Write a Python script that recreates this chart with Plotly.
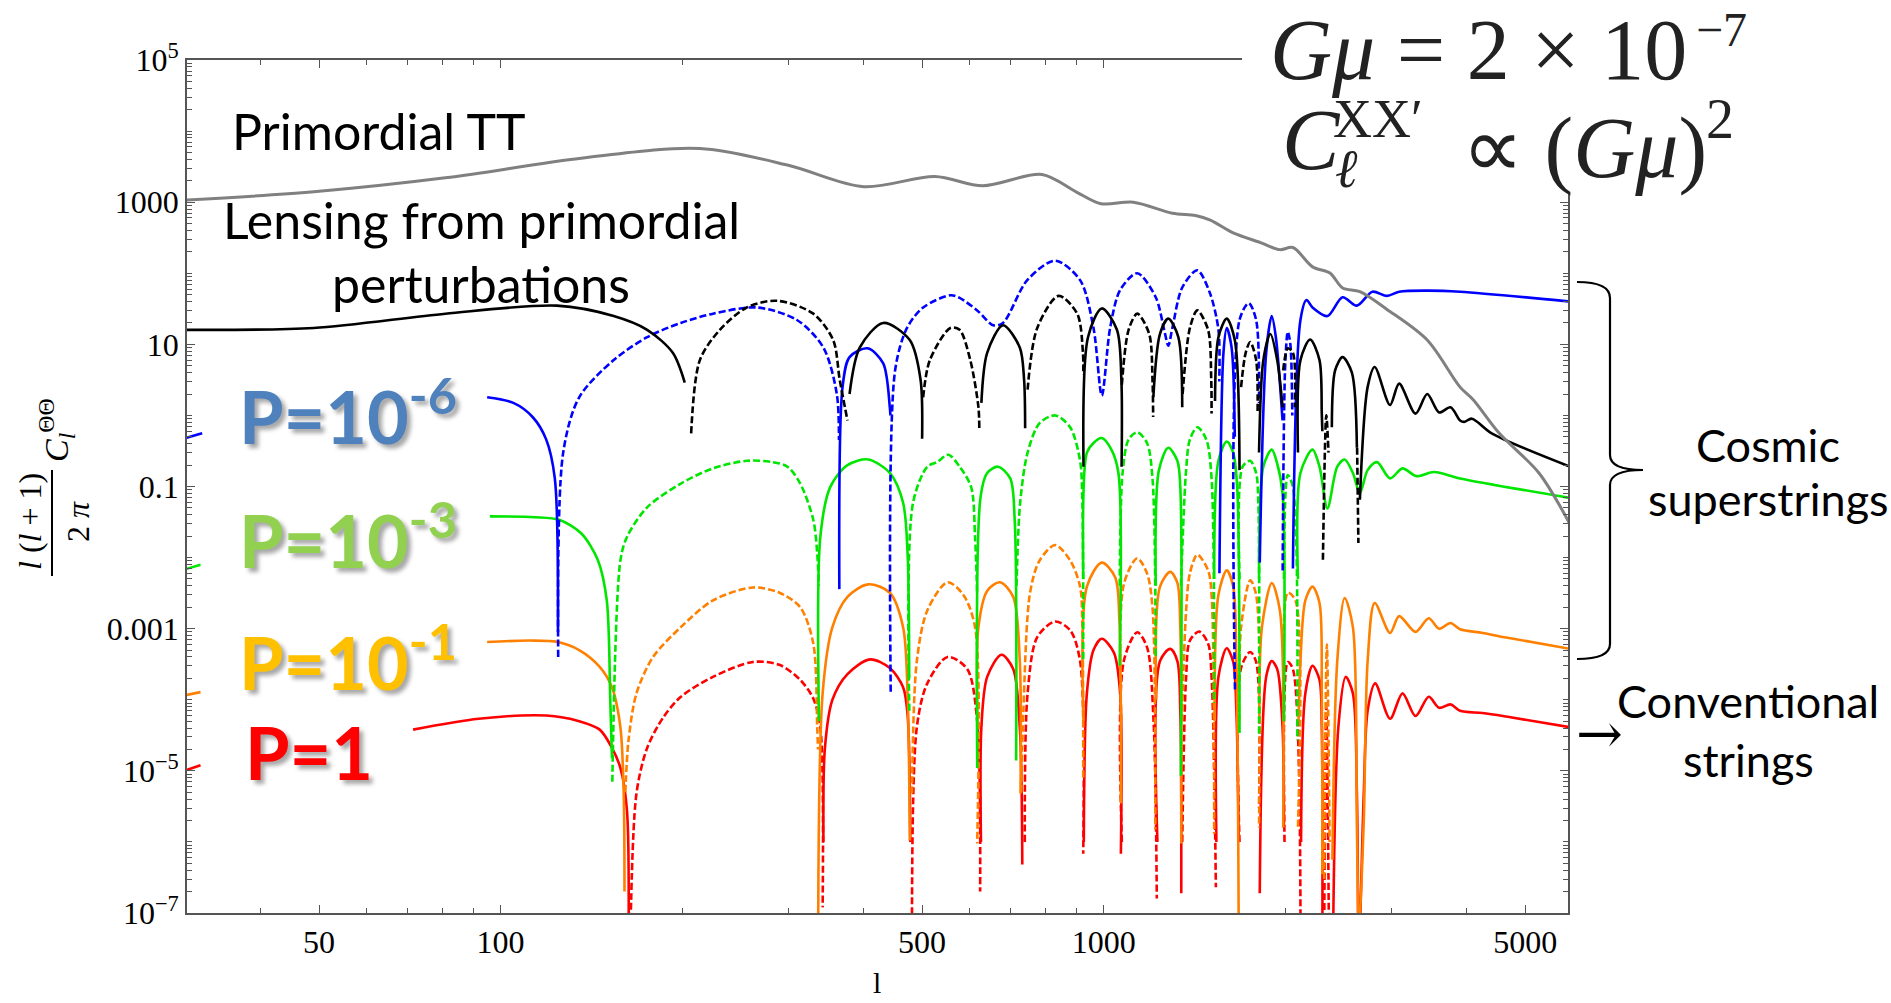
import plotly.graph_objects as go

# ---------------- data ----------------
# multipole l and l(l+1)C_l/2pi ; sign: + = positive (solid), - = negative (dashed); None = hidden gap
gray_l = [30, 49, 81, 136, 214, 300, 400, 525, 630, 790, 900, 990, 1120, 1300, 1420, 1503, 1640, 1820,
          1960, 2060, 2220, 2375, 2490, 2660, 2950, 3440, 3900, 4100, 4530, 5270, 5940]
gray_v = [1070, 1400, 2200, 4150, 5700, 3300, 1650, 2300, 1700, 2450, 1400, 950, 1000, 700, 650, 560, 370, 270,
          215, 230, 123, 100, 62, 55, 31, 11.5, 2.5, 1.66, 0.56, 0.155, 0.029]

lens_l = [30, 49, 81, 124, 154, 175, 193, 202,
          207, 214, 231, 256, 287, 330, 356, 365, 376,
          379, 394, 431, 477, 497, 500,
          502, 515, 557, 577, 601, 620, 622,
          627, 641, 681, 726, 738, 741,
          748, 776, 842, 904, 924, 925,
          926, 942, 993, 1052, 1070, 1071,
          1072, 1100, 1137, 1190, 1205, 1208,
          1209, 1240, 1280, 1330, 1350,
          1352, 1390, 1430, 1490, 1508, 1510,
          1530, 1550, 1600, 1650, 1680,
          1690, 1720, 1750, 1790, 1800,
          1810, 1840, 1890, 1940, 1980,
          1985, 2020, 2060, 2075,
          2100, 2120, 2200, 2280, 2300, 2305,
          2310, 2340, 2360,
          2390, 2420, 2490, 2580, 2630,
          2632, 2645,
          2660, 2740, 2815, 2985, 3090, 3290, 3440, 3600, 3760, 3900, 3960, 4080, 4400, 5940]
lens_v = [16, 17, 27, 35, 25, 16, 7.6, 2.9,
          -0.56, -6, -16, -33, -41, -27, -11.5, -3.2, -0.85,
          2.0, 9, 20, 11.5, 3.2, 0.47,
          -1.8, -6, -17, -16, -6, -1.3, -0.66,
          1.5, 7.6, 18.6, 9, 3.2, 0.66,
          -2.3, -17, -48, -27, -7.6, -3.7,
          0.19, 12.6, 32, 16, 3.2, 0.19,
          -2.7, -16, -27, -14, -3.2, -0.95,
          1.8, 14, 23, 12.6, 1.3,
          -2.0, -17, -30, -16, -3.2, -1.06,
          1.6, 12.6, 23, 11.5, 0.17,
          -2.5, -7.6, -10.8, -6, -1.06,
          0.3, 6, 14, 6, 1.3,
          -4.3, -8.8, -7.6, -1.3,
          0.3, 6, 11.7, 6, 1.06, 0.6,
          -0.0093, -1.0, -0.3,
          0.68, 4.3, 6.6, 4, 0.35,
          -0.35, -0.016,
          0.065, 2.5, 4.8, 1.4, 2.8, 1.06, 2.0, 1.1, 1.3, 0.85, 0.81, 0.9, 0.56, 0.19]

p6_l = [30, 32, None,
        95, 105, 113, 119, 123, 124.5,
        124.6, 127, 135, 154, 175, 199, 225, 266, 310, 343, 361, 364,
        364.5, 369, 379, 406, 431, 442, 443,
        443.5, 451, 472, 502, 557, 577, 617, 656, 681, 747, 831, 914, 962, 993, 1025, 1065, 1137, 1220,
        1260, 1280, 1300, 1350, 1430, 1500, 1550, 1555,
        1556, 1580, 1600, 1630, 1650,
        1651, 1680, 1740, 1790, 1810,
        1815, 1860, 1900, 1930, 1980,
        1981, 2000, 2020, 2040, 2055,
        2060, 2120, 2170, 2220, 2350, 2490, 2630, 2790, 2950, 3090, 3440, 3900, 5940]
p6_v = [0.48, 0.56, None,
        1.8, 1.5, 0.95, 0.46, 0.13, 0.0009,
        -0.0004, -0.30, -1.8, -6, -12.6, -20, -27, -33, -22, -9, -2.0, -0.45,
        0.0036, 2.5, 6.6, 8.8, 5.4, 1.3, 1.0,
        -0.00013, -4.3, -17, -33, -49, -45, -30, -18.6, -20, -80, -150, -80, -17, -1.9, -17, -58, -100, -46,
        -16, -9.6, -17, -63, -110, -53, -16, -3,
        0.006, 7.6, 17, 9, 0.5,
        -0.00014, -22, -38, -22, -1.5,
        0.0085, 7.6, 25, 12.6, 0.85,
        -0.0066, -5, -15, -10, -1,
        0.007, 22, 42, 33, 25, 46, 35, 55, 48, 55, 57, 55, 40]

p3_l = [29.9, 31.8, None,
        96, 114, 125, 136, 145, 150, 152, 153,
        153.2, 158, 162, 175, 199, 225, 256, 283, 299, 314, 330, 335, 337,
        337.2, 339, 352, 376, 407, 442, 465, 473, 476,
        476.2, 483, 510, 529, 553, 577, 603, 612, 617,
        617.2, 625, 641, 668, 700, 712, 716,
        717, 727, 748, 783, 831, 880, 914, 922, 925,
        925.2, 938, 962, 993, 1030, 1058, 1063,
        1063.2, 1075, 1100, 1137, 1180, 1205, 1220,
        1220.2, 1235, 1280, 1325, 1340, 1343,
        1343.2, 1370, 1390, 1430, 1480, 1510, 1525,
        1525.2, 1550, 1600, 1640, 1665, 1680,
        1680.2, 1700, 1750, 1790, 1805, 1810,
        1810.2, 1840, 1900, 1940, 1980, 1990,
        1990.2, 2020, 2060, 2095,
        2100, 2120, 2220, 2280, 2350, 2440, 2510, 2590, 2660, 2740, 2840, 2985, 3130, 3300, 3530, 3900, 5940]
p3_v = [0.0068, 0.0079, None,
        0.038, 0.037, 0.034, 0.022, 0.0092, 0.0025, 0.0001, 1.5e-5,
        -7e-6, -0.0091, -0.0195, -0.051, -0.11, -0.18, -0.23, -0.22, -0.19, -0.11, -0.034, -0.0115, -0.004,
        5e-5, 0.0195, 0.098, 0.2, 0.24, 0.155, 0.059, 0.0115, 0.0002,
        -7e-5, -0.059, -0.19, -0.22, -0.28, -0.19, -0.098, -0.0195, -0.003,
        1.1e-5, 0.071, 0.155, 0.19, 0.13, 0.034, 1.4e-5,
        -0.004, -0.059, -0.30, -0.78, -1.0, -0.68, -0.23, -0.059, -0.00035,
        0.005, 0.30, 0.41, 0.48, 0.33, 0.155, 0.0003,
        -0.004, -0.155, -0.46, -0.58, -0.41, -0.13, -0.0004,
        0.004, 0.17, 0.35, 0.23, 0.098, 8.5e-6,
        -0.004, -0.17, -0.46, -0.68, -0.46, -0.13, -9e-5,
        0.005, 0.23, 0.43, 0.30, 0.098, 3.4e-5,
        -0.005, -0.19, -0.23, -0.155, -0.059, -3.2e-5,
        0.005, 0.19, 0.33, 0.21, 0.08, 5e-5,
        -0.005, -0.145, -0.098, -2.7e-5,
        0.005, 0.155, 0.33, 0.19, 0.049, 0.19, 0.24, 0.155, 0.081, 0.17, 0.22, 0.13, 0.18, 0.14, 0.16, 0.13, 0.069]

p1_l = [29.9, 31.8, None,
        95, 112, 124.5, 135, 146, 153, 158, 160, 160.5,
        161, 163, 168, 179, 199, 225, 262, 290, 314, 330, 335, 336,
        336.2, 342, 355, 376, 407, 442, 465, 473, 477,
        481, 490, 510, 551, 585, 612, 617,
        618, 620, 641, 673, 708, 726, 728,
        730, 736, 755, 783, 831, 880, 914, 922, 925,
        926, 938, 993, 1045, 1062, 1068,
        1070, 1080, 1137, 1180, 1205, 1218,
        1222, 1240, 1290, 1325, 1340, 1345,
        1348, 1370, 1390, 1430, 1490, 1510, 1525,
        1528, 1550, 1600, 1640, 1660, 1675,
        1678, 1690, 1750, 1790, 1810,
        1812, 1830, 1900, 1960, 1985,
        1990, 2020, 2080, 2100,
        2105, 2120, 2160, 2220, 2280, 2300, 2305,
        2320, 2345, 2370,
        2395, 2440, 2510, 2590, 2630, 2650, 2700, 2740, 2815, 2985, 3090, 3290, 3460, 3600, 3760, 3900,
        4250, 4650, 5940]
p1_v = [0.000115, 0.000128, None,
        0.00065, 0.00068, 0.00065, 0.0005, 0.00029, 0.00015, 4.1e-5, 4.8e-6, 2e-7,
        -5e-6, -2.7e-5, -0.000123, -0.0004, -0.00105, -0.0025, -0.0038, -0.0032, -0.002, -0.00062, -4.1e-5, -2e-5,
        5e-8, 0.000123, 0.00105, 0.0028, 0.0042, 0.0032, 0.00105, 0.000123, 1.05e-6,
        -4.8e-6, -0.00035, -0.0018, -0.0045, -0.003, -0.00105, -9.5e-7,
        5e-5, 0.00105, 0.0034, 0.0045, 0.0028, 0.00035, 4.8e-6,
        -5e-6, -7e-5, -0.0032, -0.0091, -0.015, -0.0091, -0.0039, -0.00105, -8e-6,
        5e-5, 0.0039, 0.0085, 0.0053, 0.0013, 3.5e-6,
        -5e-5, -0.0042, -0.0098, -0.006, -0.002, -1.5e-6,
        1e-4, 0.0039, 0.0063, 0.0044, 0.00105, 9.5e-7,
        -5e-5, -0.0018, -0.006, -0.011, -0.0066, -0.003, -1.3e-6,
        5e-5, 0.003, 0.0066, 0.0039, 0.00035, 5e-8,
        -5e-5, -0.00105, -0.0048, -0.003, -1.6e-6,
        5e-5, 0.00105, 0.0044, 0.0018, 1.6e-6,
        -5e-5, -0.0032, -0.0025, -1.6e-6,
        5e-5, 0.00035, 0.0025, 0.0039, 0.0023, 0.000123, 3.5e-7,
        -3e-7, -0.0006, -1e-6,
        5.6e-7, 0.00035, 0.0027, 0.00105, 1.6e-6, 5e-8, 2e-6, 0.00035, 0.0023, 0.00087, 0.0015, 0.0009, 0.0014,
        0.001, 0.0012, 0.00098, 0.00087, 0.00075, 0.00052]

pone_l = [29.9, 31.8, None,
          71.6, 92, 119, 135, 146, 153, 158, 162, 163,
          164, 168, 175, 186, 199, 225, 262, 290, 314, 330, 339, 342,
          343, 345, 355, 376, 410, 442, 465, 473, 478,
          481, 490, 510, 551, 594, 617, 624,
          626, 627, 641, 677, 708, 726, 733,
          740, 748, 776, 831, 880, 914, 925,
          927, 938, 962, 993, 1040, 1065, 1068,
          1072, 1080, 1137, 1180, 1210, 1225,
          1228, 1240, 1290, 1325, 1340, 1345,
          1350, 1370, 1390, 1440, 1490, 1510, 1535,
          1538, 1550, 1600, 1640, 1660, 1675,
          1680, 1690, 1750, 1790, 1810,
          1815, 1860, 1900, 1940, 1980, 1990,
          1995, 2020, 2060, 2120,
          2125, 2160, 2220, 2280, 2300, 2305,
          2320, 2340, 2365,
          2400, 2450, 2520, 2590, 2630, 2650, 2700, 2740, 2820, 2985, 3130, 3290, 3460, 3600, 3760, 3900,
          4250, 4650, 5940]
pone_v = [1e-5, 1.2e-5, None,
          3.8e-5, 5.4e-5, 6e-5, 5e-5, 3.8e-5, 2.1e-5, 1.1e-5, 2.8e-6, 3e-8,
          -3e-8, -4.8e-6, -2.1e-5, -5.6e-5, -0.00011, -0.00021, -0.00034, -0.00031, -0.00019, -0.000104, -4.1e-5, -1.2e-7,
          1e-6, 2.1e-5, 0.0001, 0.00023, 0.00037, 0.00028, 0.00015, 6.2e-5, 1e-6,
          -5e-8, -4.1e-5, -0.00017, -0.0004, -0.00027, -5e-5, -2e-7,
          1e-6, 4.1e-5, 0.00021, 0.00043, 0.00027, 4.1e-5, 4.8e-7,
          -1e-6, -0.000123, -0.00076, -0.00126, -0.00095, -0.00035, -6.8e-7,
          1e-6, 0.000123, 0.0005, 0.00072, 0.00046, 0.000123, 6.8e-7,
          -1e-6, -0.00035, -0.00089, -0.00055, -5e-5, -1.6e-7,
          1e-6, 0.00035, 0.00052, 0.00035, 7e-5, 1.9e-7,
          -1e-6, -0.00021, -0.00068, -0.00091, -0.00062, -0.00021, -2.3e-7,
          1e-6, 0.00021, 0.00053, 0.00034, 7e-5, 1e-6,
          -1e-6, -0.00028, -0.00047, -0.00034, -3e-6,
          1.9e-7, 0.00021, 0.00035, 0.00027, 4.1e-5, 1.6e-6,
          -1e-6, -0.00034, -0.00027, -1e-7,
          1e-6, 0.000123, 0.0003, 0.00019, 4.1e-5, 3e-8,
          -3e-8, -8e-5, -3e-8,
          3e-8, 4.1e-5, 0.00021, 0.000123, 4.8e-6, 3e-8, 4.8e-6, 7e-5, 0.00017, 5.4e-5, 0.000123, 5.9e-5, 0.00011,
          7.7e-5, 8.6e-5, 7e-5, 6.5e-5, 5.8e-5, 4.1e-5]

x_tickvals = [50, 100, 500, 1000, 5000]
x_ticktext = ["50", "100", "500", "1000", "5000"]
y_tickvals = [1e-7, 1e-5, 1e-3, 0.1, 10, 1000, 1e5]
y_ticktext = ["10<sup>−7</sup>", "10<sup>−5</sup>", "0.001", "0.1", "10", "1000", "10<sup>5</sup>"]

# ---------------- layout helpers ----------------
W, H = 1891, 1003
ML, MR, MT, MB = 187, 323, 60, 90
PW, PH = W - ML - MR, H - MT - MB


def px(x):
    return (x - ML) / PW


def py(y):
    return 1 - (y - MT) / PH


def split(ls, vs):
    sx, sy, dx, dy = [], [], [], []
    prev = None
    for l, v in zip(ls, vs):
        if v is None:
            sx.append(None); sy.append(None); dx.append(None); dy.append(None)
            prev = None
            continue
        pos = v > 0
        if prev is not None and pos != prev:
            if prev:
                sx.append(None); sy.append(None)
            else:
                dx.append(None); dy.append(None)
        if pos:
            sx.append(l); sy.append(v)
        else:
            dx.append(l); dy.append(-v)
        prev = pos
    return sx, sy, dx, dy


fig = go.Figure()

LW = 2.6
curves = [
    (pone_l, pone_v, "rgb(255,0,0)"),
    (p1_l, p1_v, "rgb(255,128,0)"),
    (p3_l, p3_v, "rgb(0,230,0)"),
    (p6_l, p6_v, "rgb(0,0,255)"),
    (lens_l, lens_v, "black"),
]
for ls, vs, col in curves:
    sx, sy, dx, dy = split(ls, vs)
    fig.add_trace(go.Scatter(x=sx, y=sy, mode="lines", line=dict(color=col, width=LW, shape="spline", smoothing=0.85),
                             connectgaps=False, hoverinfo="skip", showlegend=False))
    fig.add_trace(go.Scatter(x=dx, y=dy, mode="lines",
                             line=dict(color=col, width=LW, dash="7px,3px", shape="spline", smoothing=0.85),
                             connectgaps=False, hoverinfo="skip", showlegend=False))

fig.add_trace(go.Scatter(x=gray_l, y=gray_v, mode="lines",
                         line=dict(color="rgb(128,128,128)", width=3, shape="spline", smoothing=0.9),
                         hoverinfo="skip", showlegend=False))

# minor tick positions
x_minor = [k * 10 ** n for n in (1, 2, 3) for k in range(1, 10) if 30 <= k * 10 ** n <= 6000]
y_minor = [k * 10.0 ** n for n in range(-7, 5) for k in range(1, 10)]

tickfont = dict(family="Liberation Serif", size=32, color="black")
axcol = "#555"
fig.update_xaxes(type="log", range=[1.480, 3.770], showgrid=False, zeroline=False,
                 showline=True, linecolor=axcol, linewidth=1.6, mirror="allticks",
                 ticks="inside", ticklen=8, tickcolor=axcol, tickwidth=1.2,
                 tickmode="array", tickvals=x_tickvals, ticktext=x_ticktext, tickfont=tickfont,
                 minor=dict(tickmode="array", tickvals=x_minor, ticks="inside", ticklen=5, tickcolor=axcol, showgrid=False))
fig.update_yaxes(type="log", range=[-7, 5], showgrid=False, zeroline=False,
                 showline=True, linecolor=axcol, linewidth=1.6, mirror="allticks",
                 ticks="inside", ticklen=8, tickcolor=axcol, tickwidth=1.2,
                 tickmode="array", tickvals=y_tickvals, ticktext=y_ticktext, tickfont=tickfont,
                 minor=dict(tickmode="array", tickvals=y_minor, ticks="inside", ticklen=5, tickcolor=axcol, showgrid=False))

shapes = []
# white box behind formula covering the frame corner
shapes.append(dict(type="rect", xref="paper", yref="paper", x0=px(1242), x1=px(1600), y0=py(192), y1=py(40),
                   fillcolor="white", line=dict(width=0), layer="above"))
# brace
bp = [(1577, 282), (1610, 282), (1610, 298), (1610, 455), (1610, 470), (1643, 470), (1610, 470), (1610, 485),
      (1610, 644), (1610, 659), (1577, 659)]
path = ("M {0},{1} Q {2},{3} {4},{5} L {6},{7} Q {8},{9} {10},{11} Q {12},{13} {14},{15} L {16},{17} Q {18},{19} {20},{21}"
        .format(*[c for p in bp for c in (px(p[0]), py(p[1]))]))
shapes.append(dict(type="path", xref="paper", yref="paper", path=path, line=dict(color="black", width=2.2), layer="above"))
# fraction bar of y label
shapes.append(dict(type="line", xref="paper", yref="paper", x0=px(52), x1=px(52), y0=py(470), y1=py(576),
                   line=dict(color="black", width=2), layer="above"))

ann = []


def text(x, y, s, size, fam="Lato", color="black", xa="center", ya="middle", angle=0, weight="normal", shadow=None):
    f = dict(family=fam, size=size, color=color, weight=weight)
    if shadow:
        f["shadow"] = shadow
    ann.append(dict(x=px(x), y=py(y), xref="paper", yref="paper", text=s, showarrow=False, xanchor=xa, yanchor=ya,
                    font=f, textangle=angle))


text(230, 131, "Primordial TT", 50, xa="left")
text(481, 220, "Lensing from primordial", 50)
text(481, 284, "perturbations", 50)

shadow = "4px 4px 4px rgba(0,0,0,0.35)"
text(237, 412, "P=10<sup>-6</sup>", 72, color="rgb(79,129,189)", xa="left", weight="bold", shadow=shadow)
text(237, 535, "P=10<sup>-3</sup>", 72, color="rgb(146,208,80)", xa="left", weight="bold", shadow=shadow)
text(237, 657, "P=10<sup>-1</sup>", 72, color="rgb(255,192,0)", xa="left", weight="bold", shadow=shadow)
text(243, 752, "P=1", 72, color="rgb(255,0,0)", xa="left", weight="bold", shadow=shadow)

serif = "Liberation Serif"
text(1268, 50, "<i>Gμ</i> = 2 × 10", 86, fam=serif, color="#222", xa="left")
text(1694, 1, "−7", 48, fam=serif, color="#222", xa="left", ya="top")
text(1280, 140, "<i>C</i>", 86, fam=serif, color="#222", xa="left")
text(1333, 168, "<i>ℓ</i>", 54, fam="DejaVu Serif", color="#222", xa="left")
text(1331, 119, "XX′", 54, fam=serif, color="#222", xa="left")
text(1460, 148, "∝ (<i>Gμ</i>)", 86, fam=serif, color="#222", xa="left")
text(1704, 119, "2", 56, fam=serif, color="#222", xa="left")

text(1768, 445, "Cosmic", 45)
text(1768, 499, "superstrings", 45)
text(1748, 701, "Conventional", 45)
text(1748, 760, "strings", 45)
text(1600, 733, "→", 56, fam="DejaVu Serif")

# axis titles
text(877, 982, "l", 30, fam=serif)
text(30, 522, "<i>l</i> (<i>l</i> + 1)", 32, fam=serif, angle=-90)
text(78, 522, "2 <i>π</i>", 32, fam=serif, angle=-90)
text(57, 430, "<i>C</i><sub><i>l</i></sub><sup>ΘΘ</sup>", 34, fam=serif, angle=-90)

fig.update_layout(width=W, height=H, margin=dict(l=ML, r=MR, t=MT, b=MB, pad=0),
                  paper_bgcolor="white", plot_bgcolor="white", shapes=shapes, annotations=ann, showlegend=False)

fig.write_html("out.html", config={"displayModeBar": False},
               post_script="document.body.style.margin='0';document.body.style.overflow='hidden';")
